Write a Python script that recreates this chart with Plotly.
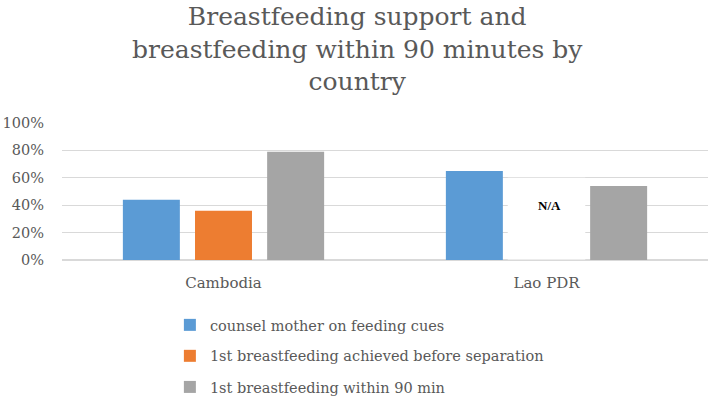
import plotly.graph_objects as go

countries = ["Cambodia", "Lao PDR"]
counsel = [0.44, 0.65]
before_sep = [0.36, None]
within_90 = [0.79, 0.54]

series_names = [
    "counsel mother on feeding cues",
    "1st breastfeeding achieved before separation",
    "1st breastfeeding within 90 min",
]
colors = ["#5b9bd5", "#ed7d31", "#a5a5a5"]
tick_vals = [0, 0.2, 0.4, 0.6, 0.8, 1.0]
tick_text = ["0%", "20%", "40%", "60%", "80%", "100%"]

FONT = "DejaVu Serif"
GREY = "#595959"

fig = go.Figure()
legends = ["legend", "legend2", "legend3"]
for name, vals, c, lg in zip(series_names, [counsel, before_sep, within_90], colors, legends):
    fig.add_trace(go.Bar(x=countries, y=vals, name=name, marker_color=c,
                         marker_line_width=0, hoverinfo="y", legend=lg))

# N/A marker for Lao PDR (no data for series 2)
fig.add_shape(type="rect", xref="x", yref="y", x0=1 - 0.12, x1=1 + 0.12,
              y0=0.003, y1=0.6, fillcolor="white", line_width=0, layer="above")
fig.add_annotation(x=countries[1], y=0.4, text="<b>N/A</b>", showarrow=False,
                   xshift=3, font=dict(family="Liberation Serif", size=13, color="#000000"))

# title
fig.add_annotation(xref="paper", yref="paper", x=0.457, y=1.9, xanchor="center", yanchor="top",
                   text="Breastfeeding support and<br>breastfeeding within 90 minutes by<br>country",
                   showarrow=False, align="center",
                   font=dict(family=FONT, size=25, color=GREY))

leg_common = dict(x=0.167, xanchor="left", yanchor="middle", orientation="v",
                  font=dict(family=FONT, size=14.5, color=GREY), bgcolor="rgba(0,0,0,0)")
fig.update_layout(
    width=708, height=405,
    margin=dict(l=62, r=0, t=123, b=145),
    paper_bgcolor="white", plot_bgcolor="white",
    font=dict(family=FONT, color=GREY, size=15),
    barmode="group", bargap=0.33, bargroupgap=0.21,
    showlegend=True,
    legend=dict(y=-0.474, **leg_common),
    legend2=dict(y=-0.70, **leg_common),
    legend3=dict(y=-0.927, **leg_common),
)
fig.update_yaxes(range=[0, 1.0], tickvals=tick_vals, ticktext=tick_text,
                 showgrid=True, gridcolor="#d9d9d9", gridwidth=1,
                 zeroline=True, zerolinecolor="#d9d9d9", showline=False,
                 ticks="", ticklabelstandoff=17, automargin=False,
                 tickfont=dict(family=FONT, size=14.5, color=GREY))
fig.update_xaxes(showline=False, ticks="", ticklabelstandoff=12, automargin=False,
                 tickfont=dict(family=FONT, size=15, color=GREY))

# the page body has a default 8px margin; drop it so the 708x405 figure fills the window
fig.write_html("out.html", config={"displayModeBar": False},
               post_script="document.body.style.margin='0px';")
